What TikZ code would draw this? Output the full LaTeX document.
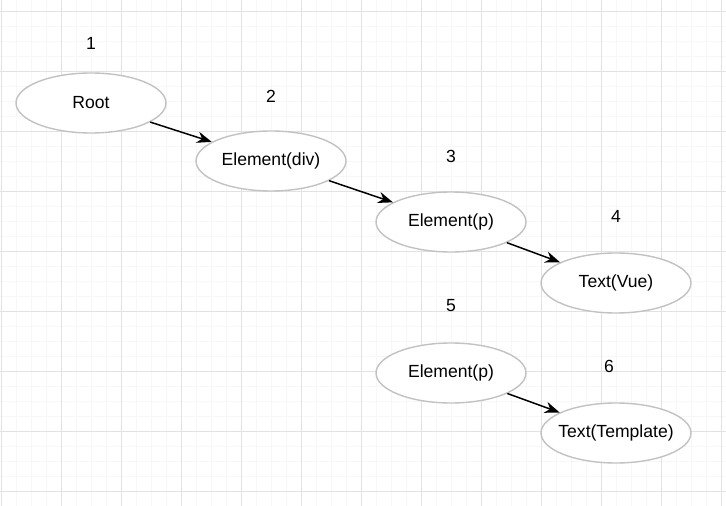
\documentclass[tikz,border=0pt]{standalone}
\usepackage{fontspec}
\setmainfont{Liberation Sans}
\usetikzlibrary{shapes.geometric,arrows.meta}
\definecolor{minorgrid}{HTML}{F7F7F7}
\definecolor{majorgrid}{HTML}{E2E2E2}
\definecolor{nodeline}{HTML}{C2C2C2}
\tikzset{
  treenode/.style={ellipse,draw=nodeline,line width=0.8pt,fill=white,
    minimum width=3cm,minimum height=1.2cm,inner xsep=-0.15cm,inner ysep=0pt,
    font=\fontsize{10}{12}\selectfont},
  numlabel/.style={font=\fontsize{10}{12}\selectfont},
  edge/.style={-{Stealth[length=8.5pt,width=6.5pt]},line width=0.85pt,black}
}

\begin{document}
\begin{tikzpicture}[x=0.02cm,y=-0.02cm]
\useasboundingbox (0,0) rectangle (726,506);
% grid
\foreach \x in {1,16,...,721} \draw[minorgrid,line width=0.55pt] (\x,0)--(\x,506);
\foreach \y in {11,26,...,506} \draw[minorgrid,line width=0.55pt] (0,\y)--(726,\y);
\foreach \x in {1,61,...,721} \draw[majorgrid,line width=0.55pt] (\x,0)--(\x,506);
\foreach \y in {11,71,...,491} \draw[majorgrid,line width=0.55pt] (0,\y)--(726,\y);
% nodes
\node[treenode] (root) at (91,103) {Root};
\node[treenode] (div) at (271,161) {Element(div)};
\node[treenode] (pa) at (451,222) {Element(p)};
\node[treenode] (vue) at (616,283) {Text(Vue)};
\node[treenode] (pb) at (451,373) {Element(p)};
\node[treenode] (tmpl) at (616,433) {Text(Template)};
% numbers
\node[numlabel] (n1) at (91,43) {1};
\node[numlabel] (n2) at (271,96) {2};
\node[numlabel] (n3) at (451,156) {3};
\node[numlabel] (n4) at (616,216) {4};
\node[numlabel] (n5) at (451,306) {5};
\node[numlabel] (n6) at (609,366) {6};
% edges
\draw[edge] (root) -- (div);
\draw[edge] (div) -- (pa);
\draw[edge] (pa) -- (vue);
\draw[edge] (pb) -- (tmpl);
\end{tikzpicture}
\end{document}
